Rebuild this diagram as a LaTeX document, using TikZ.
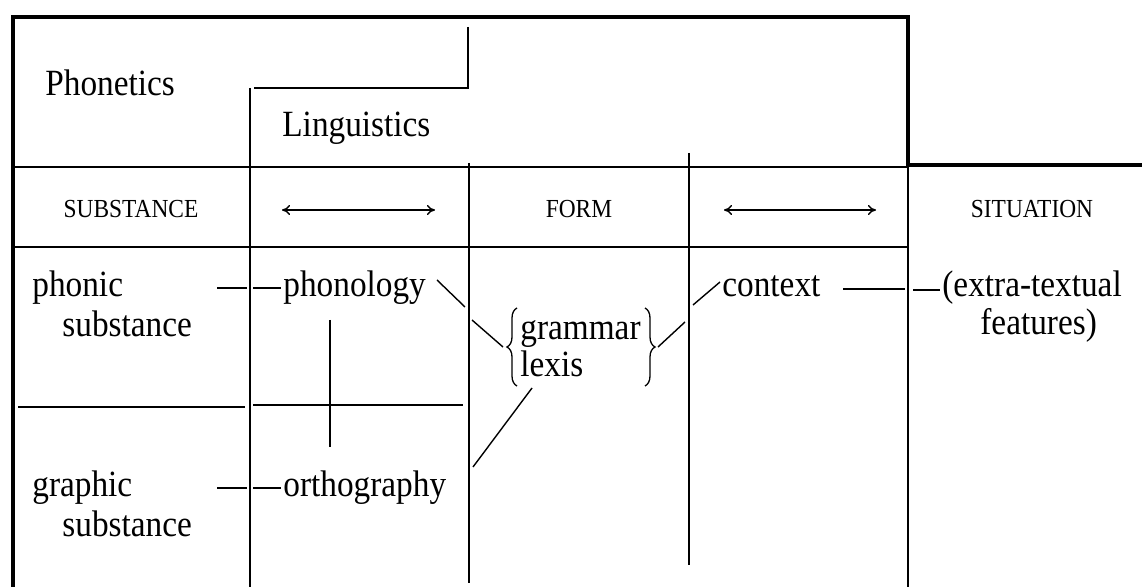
\documentclass[tikz,border=0pt]{standalone}
\usepackage{fontspec}
\setmainfont{Liberation Serif}[FakeStretch=0.9]
\usetikzlibrary{decorations.pathreplacing,arrows.meta}
\begin{document}
\begin{tikzpicture}[x=0.5pt,y=-0.5pt,
  thin/.style={line width=0.75pt},
  border/.style={line width=2pt},
  tie/.style={line width=0.7pt},
  twoway/.style={line width=0.7pt,{To[length=4pt,width=5pt]}-{To[length=4pt,width=5pt]}},
  curly/.style={line width=0.65pt,decorate,decoration={brace,amplitude=5pt}},
  lbl/.style={inner sep=0pt,anchor=base west,font=\fontsize{18.5}{22}\selectfont},
  hdr/.style={inner sep=0pt,anchor=base,font=\fontsize{13}{15}\selectfont}]
\useasboundingbox (0,0) rectangle (1142,587);

% outer frame
\draw[border] (13,587) -- (13,17) -- (908,17) -- (908,165) -- (1142,165);

% step between Phonetics and Linguistics
\draw[thin] (468,27) -- (468,88) -- (254,88);
\draw[thin] (250,88) -- (250,587);

% header rules and column lines
\draw[thin] (13,167) -- (908,167);
\draw[thin] (13,247) -- (908,247);
\draw[thin] (469,163) -- (469,583);
\draw[thin] (689,153) -- (689,565);
\draw[thin] (908,165) -- (908,587);

% phonic / graphic divider
\draw[thin] (18,407) -- (245,407);
\draw[thin] (253,405) -- (463,405);

% area labels
\node[lbl] (phonetics) at (45,96) {Phonetics};
\node[lbl] (linguistics) at (282,137) {Linguistics};

% column headings
\node[hdr] (substance) at (131,218) {SUBSTANCE};
\node[hdr] (form) at (579,218) {FORM};
\node[hdr] (situation) at (1032,218) {SITUATION};
\coordinate (al1) at (282,210); \coordinate (ar1) at (435,210);
\coordinate (al2) at (724,210); \coordinate (ar2) at (876,210);
\draw[twoway] (al1) -- (ar1);
\draw[twoway] (al2) -- (ar2);

% cells
\node[lbl] (phonic) at (32,297) {phonic};
\node[lbl] (phonicsub) at (62,337) {substance};
\node[lbl] (graphic) at (32,497) {graphic};
\node[lbl] (graphicsub) at (62,537) {substance};
\node[lbl] (phonology) at (283,297) {phonology};
\node[lbl] (orthography) at (283,497) {orthography};
\node[lbl] (grammar) at (520,340) {grammar};
\node[lbl] (lexis) at (520,377) {lexis};
\node[lbl] (context) at (722,297) {context};
\node[lbl] (extra) at (942,297) {(extra-textual};
\node[lbl] (features) at (980,335) {features)};

% braces round grammar / lexis
\coordinate (lbB) at (517,386); \coordinate (lbT) at (517,308);
\coordinate (rbT) at (645,308); \coordinate (rbB) at (645,386);
\draw[curly] (lbB) -- (lbT);
\draw[curly] (rbT) -- (rbB);

% substance -- phonology / orthography
\coordinate (p1) at (217,288); \coordinate (p2) at (247,288);
\coordinate (p3) at (253,288); \coordinate (p4) at (281,288);
\draw[tie] (p1) -- (p2);
\draw[tie] (p3) -- (p4);
\coordinate (g1) at (217,488); \coordinate (g2) at (247,488);
\coordinate (g3) at (253,488); \coordinate (g4) at (281,488);
\draw[tie] (g1) -- (g2);
\draw[tie] (g3) -- (g4);

% phonology -- orthography
\coordinate (po1) at (330,320); \coordinate (po2) at (330,447);
\draw[tie] (po1) -- (po2);

% phonology -- form
\coordinate (f1) at (437,280); \coordinate (f2) at (465,307);
\coordinate (f3) at (472,320); \coordinate (f4) at (503,347);
\draw[tie] (f1) -- (f2);
\draw[tie] (f3) -- (f4);

% lexis -- orthography
\coordinate (o1) at (532,388); \coordinate (o2) at (473,467);
\draw[tie] (o1) -- (o2);

% form -- context
\coordinate (c1) at (658,347); \coordinate (c2) at (685,322);
\coordinate (c3) at (693,305); \coordinate (c4) at (720,282);
\draw[tie] (c1) -- (c2);
\draw[tie] (c3) -- (c4);

% context -- situation
\coordinate (s1) at (843,289); \coordinate (s2) at (905,289);
\coordinate (s3) at (913,290); \coordinate (s4) at (940,290);
\draw[tie] (s1) -- (s2);
\draw[tie] (s3) -- (s4);
\end{tikzpicture}
\end{document}
